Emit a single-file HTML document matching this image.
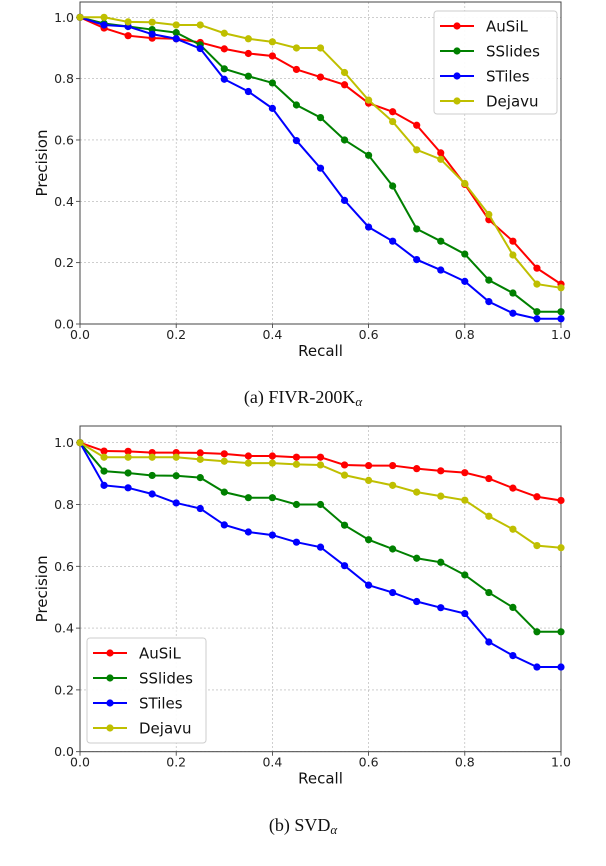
<!DOCTYPE html>
<html><head><meta charset="utf-8"><style>
body{margin:0;background:#fff;width:606px;height:866px;overflow:hidden;position:relative}
svg{position:absolute;left:0;top:0}
</style></head><body>
<svg id="s" width="606" height="866" font-family="DejaVu Sans, sans-serif"></svg>
<script>
const recall=[0,0.05,0.1,0.15,0.2,0.25,0.3,0.35,0.4,0.45,0.5,0.55,0.6,0.65,0.7,0.75,0.8,0.85,0.9,0.95,1.0];
const xTicks=[0,0.2,0.4,0.6,0.8,1.0];
const yTicks=[0,0.2,0.4,0.6,0.8,1.0];
const seriesNames=["AuSiL","SSlides","STiles","Dejavu"];
const seriesColors=["#ff0000","#008000","#0000ff","#bfbf00"];
const fivrAusil=[1.0,.965,.94,.932,.93,.918,.897,.882,.874,.83,.805,.78,.72,.692,.648,.558,.455,.34,.27,.182,.13];
const fivrSslides=[1.0,.98,.97,.96,.95,.91,.832,.808,.786,.714,.673,.6,.55,.45,.31,.27,.228,.143,.101,.04,.04];
const fivrStiles=[1.0,.975,.97,.945,.93,.898,.798,.758,.703,.598,.508,.403,.316,.27,.21,.176,.139,.073,.035,.017,.017];
const fivrDejavu=[1.0,1.0,.985,.984,.975,.975,.948,.93,.92,.9,.9,.82,.73,.66,.568,.537,.458,.357,.225,.13,.118];
const svdAusil=[1.0,.973,.972,.968,.968,.967,.964,.957,.957,.953,.953,.928,.926,.926,.916,.909,.903,.884,.853,.825,.813];
const svdSslides=[1.0,.908,.902,.894,.893,.887,.84,.822,.822,.8,.8,.733,.686,.656,.626,.613,.572,.515,.467,.388,.388];
const svdStiles=[1.0,.862,.854,.834,.805,.787,.734,.711,.701,.678,.662,.602,.539,.515,.486,.466,.447,.355,.311,.274,.274];
const svdDejavu=[1.0,.953,.953,.953,.953,.946,.94,.934,.934,.93,.928,.895,.878,.862,.84,.827,.814,.762,.72,.667,.66];

const S=document.getElementById('s');
const NS='http://www.w3.org/2000/svg';
function mk(tag,attrs,parent){const e=document.createElementNS(NS,tag);for(const k in attrs)e.setAttribute(k,attrs[k]);(parent||S).appendChild(e);return e;}

function chart(id,top,y0,y1,seriesData,legend,caption,capY){
  const xl=80,xr=561;
  const X=v=>xl+v*(xr-xl);
  const Y=v=>y0+v*(y1-y0);
  const g=mk('g',{});
  
  
  xTicks.forEach(t=>{
    const l=mk('line',{x1:X(t),x2:X(t),y1:top,y2:y0,stroke:'#b0b0b0','stroke-width':0.6,'stroke-dasharray':'2,2'},g);
    
    mk('line',{x1:X(t),x2:X(t),y1:y0,y2:y0+4,stroke:'#333','stroke-width':0.8},g);
    const tx=mk('text',{x:X(t),y:y0+15,'font-size':12.5,'text-anchor':'middle',fill:'#222'},g);
    tx.textContent=t.toFixed(1);
    
  });
  yTicks.forEach(t=>{
    const l=mk('line',{x1:xl,x2:xr,y1:Y(t),y2:Y(t),stroke:'#b0b0b0','stroke-width':0.6,'stroke-dasharray':'2,2'},g);
    
    mk('line',{x1:xl-4,x2:xl,y1:Y(t),y2:Y(t),stroke:'#333','stroke-width':0.8},g);
    const tx=mk('text',{x:xl-6,y:Y(t)+4.5,'font-size':12.5,'text-anchor':'end',fill:'#222'},g);
    tx.textContent=t.toFixed(1);
    
  });
  const fr=mk('rect',{x:xl,y:top,width:xr-xl,height:y0-top,fill:'none',stroke:'#444','stroke-width':1},g);
  
  const xt=mk('text',{x:(xl+xr)/2,y:y0+32,'font-size':15,'text-anchor':'middle',fill:'#111'},g);
  xt.textContent='Recall';
  const yt=mk('text',{x:0,y:0,'font-size':15,'text-anchor':'middle',fill:'#111',transform:`translate(47,${(top+y0)/2}) rotate(-90)`},g);
  yt.textContent='Precision';
  seriesData.forEach((d,i)=>{
    const pts=d.map((v,j)=>X(recall[j])+','+Y(v)).join(' ');
    const pl=mk('polyline',{points:pts,fill:'none',stroke:seriesColors[i],'stroke-width':2},g);
    
    d.forEach((v,j)=>{
      const c=mk('circle',{cx:X(recall[j]),cy:Y(v),r:3.6,fill:seriesColors[i]},g);
      
    });
  });
  const lg=mk('g',{},g);
  
  mk('rect',{x:legend.x,y:legend.y,width:legend.w,height:legend.h,rx:3,fill:'#fff',stroke:'#ccc','stroke-width':1,opacity:0.95},lg);
  seriesNames.forEach((n,i)=>{
    const yy=legend.y+15+i*25;
    const e=mk('g',{},lg);
    
    mk('line',{x1:legend.x+6,x2:legend.x+40,y1:yy,y2:yy,stroke:seriesColors[i],'stroke-width':2},e);
    mk('circle',{cx:legend.x+23,cy:yy,r:3.6,fill:seriesColors[i]},e);
    const t=mk('text',{x:legend.x+52,y:yy+5.5,'font-size':15,fill:'#111'},e);
    t.textContent=n;
  });
  const cp=mk('text',{x:303,y:capY,'font-size':18,'text-anchor':'middle','font-family':'Liberation Serif, serif',fill:'#111'},g);
  
  cp.innerHTML=caption;
}
chart('fivr-chart',2,324,17.3,[fivrAusil,fivrSslides,fivrStiles,fivrDejavu],{x:434,y:11,w:123,h:103},'(a)  FIVR-200K<tspan font-style="italic" font-size="13" dy="3">α</tspan>',403);
chart('svd-chart',426,751.7,442.7,[svdAusil,svdSslides,svdStiles,svdDejavu],{x:87,y:638,w:119,h:105},'(b)  SVD<tspan font-style="italic" font-size="13" dy="3">α</tspan>',831);
const ft=mk('text',{x:-8,y:879,'font-size':18,'font-family':'Liberation Serif, serif',fill:'#111'});

ft.textContent='2: Interpolated PR-curves for each approach on FIVR-200K and SVD';
</script>
</body></html>
